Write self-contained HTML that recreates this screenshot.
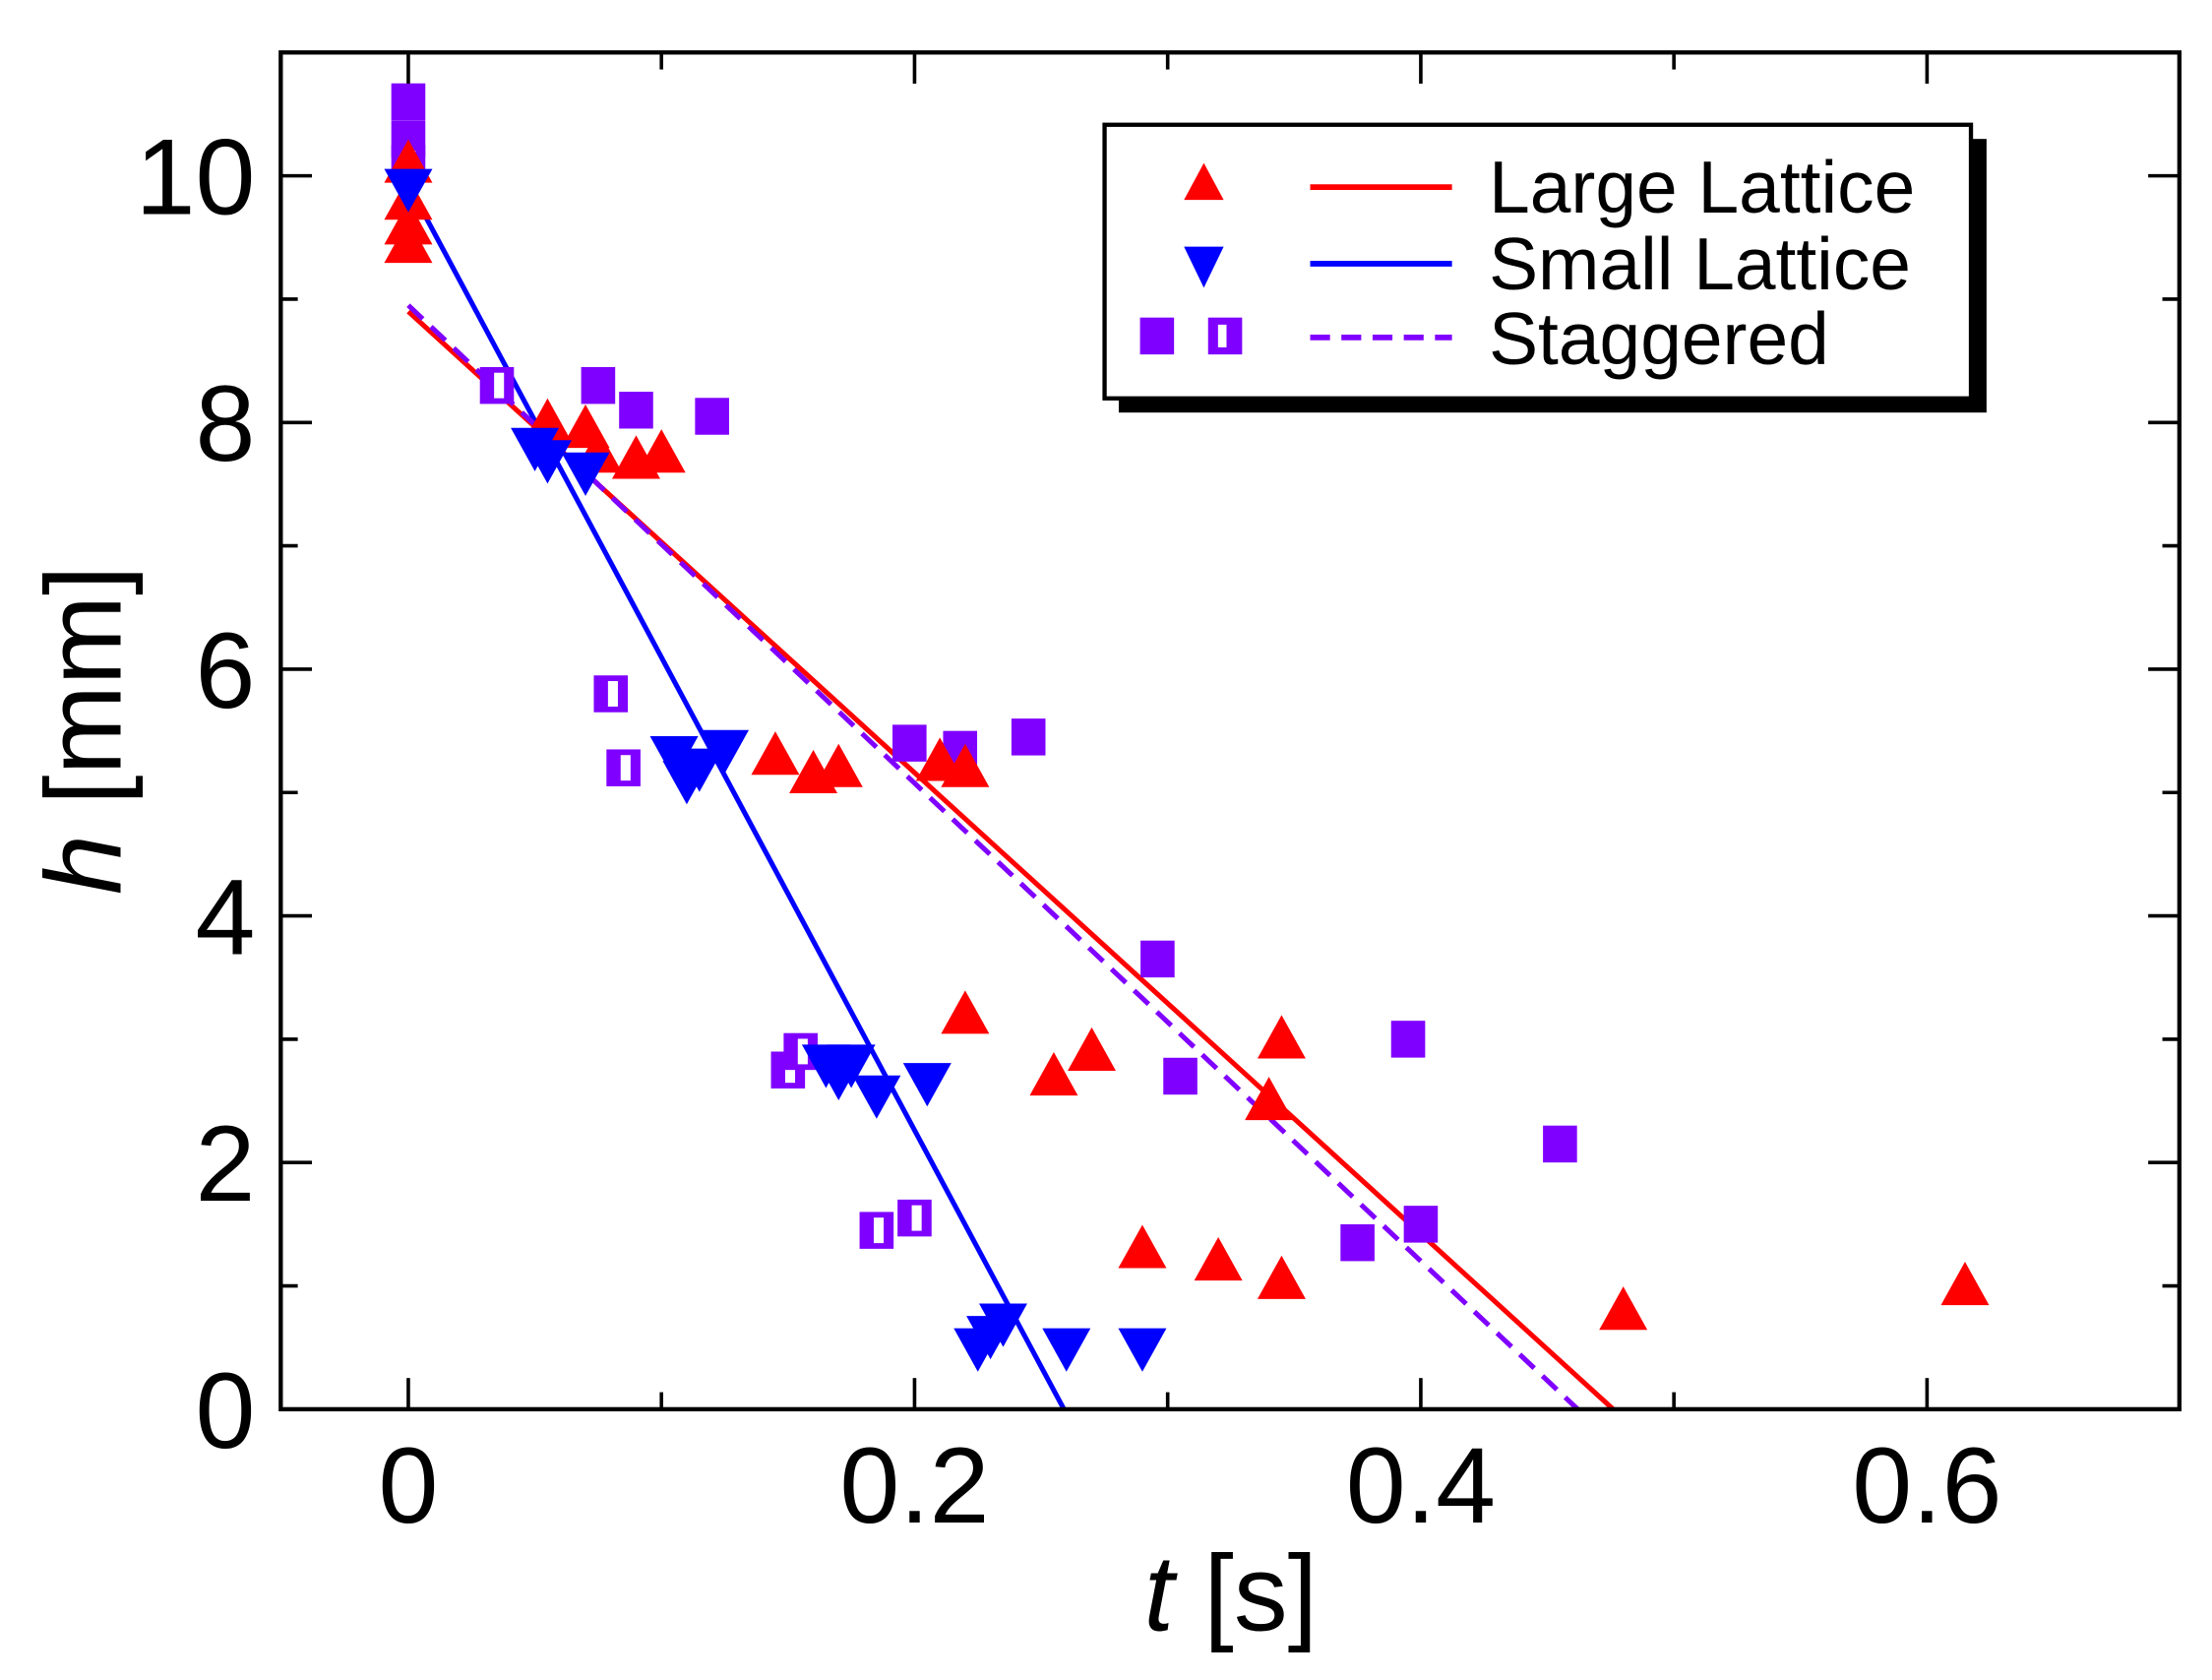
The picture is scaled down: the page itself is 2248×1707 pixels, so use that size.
<!DOCTYPE html>
<html><head><meta charset="utf-8"><style>
html,body{margin:0;padding:0;background:#fff}
svg{display:block}
text{font-family:"Liberation Sans",Arial,sans-serif}
</style></head><body>
<svg id="chart" width="2248" height="1707" viewBox="0 0 1560 1185" preserveAspectRatio="none" xmlns="http://www.w3.org/2000/svg">
<g id="plot"></g>
</svg>
<script>
const xTicks=[0,0.2,0.4,0.6];
const xTickLabels=["0","0.2","0.4","0.6"];
const yTicks=[0,2,4,6,8,10];
const yTickLabels=["0","2","4","6","8","10"];
const largeT=[0,0,0,0,0.055,0.07,0.075,0.09,0.1,0.145,0.16,0.17,0.21,0.22,0.22,0.255,0.27,0.29,0.32,0.34,0.345,0.345,0.48,0.615];
const largeH=[10.1,9.8,9.6,9.45,8.0,7.95,7.75,7.7,7.75,5.3,5.15,5.2,5.25,5.2,3.2,2.7,2.9,1.3,1.2,2.5,3.0,1.05,0.8,1.0];
const smallT=[0,0.05,0.055,0.07,0.105,0.11,0.115,0.125,0.165,0.17,0.175,0.185,0.205,0.225,0.23,0.235,0.26,0.29];
const smallH=[9.9,7.8,7.7,7.6,5.3,5.1,5.2,5.35,2.8,2.7,2.8,2.55,2.65,0.5,0.6,0.7,0.5,0.5];
const stagT=[0,0,0.075,0.09,0.12,0.198,0.218,0.245,0.296,0.305,0.395,0.4,0.375,0.455];
const stagH=[10.6,10.3,8.3,8.1,8.05,5.4,5.35,5.45,3.65,2.7,3.0,1.5,1.35,2.15];
const stagHalfT=[0,0.035,0.08,0.085,0.15,0.155,0.185,0.2];
const stagHalfH=[10.1,8.3,5.8,5.2,2.75,2.9,1.45,1.55];
const fitLarge=[[0,8.9],[0.476,0]];
const fitSmall=[[0,9.93],[0.259,0]];
const fitStag=[[0,8.95],[0.462,0]];

const L=198,R=1537,T=37,B=994,X0=-0.0504,X1=0.6997,Y0=0,Y1=11;
const sx=v=>L+(v-X0)/(X1-X0)*(R-L);
const sy=v=>B-(v-Y0)/(Y1-Y0)*(B-T);
const NS="http://www.w3.org/2000/svg";
const g=document.getElementById('plot');
function mk(tag,attrs,parent){const e=document.createElementNS(NS,tag);for(const k in attrs)e.setAttribute(k,attrs[k]);(parent||g).appendChild(e);return e;}

[[fitLarge,'#ff0000',null,'fit-line-large'],[fitSmall,'#0000ff',null,'fit-line-small'],[fitStag,'#8000ff','14 8','fit-line-staggered']].forEach(f=>{
  const e=mk('line',{x1:sx(f[0][0][0]),y1:sy(f[0][0][1]),x2:sx(f[0][1][0]),y2:sy(f[0][1][1]),stroke:f[1],'stroke-width':3.5});
  if(f[2])e.setAttribute('stroke-dasharray',f[2]);
  
  
});
function tri(x,y,up,col,name){
  const s=17;
  const pts=up?`${x},${y-s} ${x-s},${y+s*0.8} ${x+s},${y+s*0.8}`:`${x},${y+s} ${x-s},${y-s*0.8} ${x+s},${y-s*0.8}`;
  const e=mk('polygon',{points:pts,fill:col});
  
  
}
function sq(x,y,half,name){
  const e=mk('rect',{x:x-12,y:y-13,width:24,height:26,fill:'#7f00ff'});
  
  
  if(half){const w=mk('rect',{x:x-2,y:y-9,width:7,height:18,fill:'#fff'});
    
    }
}
stagT.forEach((t,i)=>sq(sx(t),sy(stagH[i]),false,'staggered-point'));
stagHalfT.forEach((t,i)=>sq(sx(t),sy(stagHalfH[i]),true,'staggered-half-point'));
largeT.forEach((t,i)=>tri(sx(t),sy(largeH[i]),true,'#ff0000','large-lattice-point'));
smallT.forEach((t,i)=>tri(sx(t),sy(smallH[i]),false,'#0000ff','small-lattice-point'));

const fr=mk('rect',{x:L,y:T,width:R-L,height:B-T,fill:'none',stroke:'#000','stroke-width':3});


xTicks.forEach((v,i)=>{
  const x=sx(v);
  mk('line',{x1:x,y1:B,x2:x,y2:B-22,stroke:'#000','stroke-width':2.5});
  mk('line',{x1:x,y1:T,x2:x,y2:T+22,stroke:'#000','stroke-width':2.5});
  const t=mk('text',{x:x,y:B+80,'font-size':76,'text-anchor':'middle'});t.textContent=xTickLabels[i];
  
  
});
[0.1,0.3,0.5].forEach(v=>{const x=sx(v);
  mk('line',{x1:x,y1:B,x2:x,y2:B-12,stroke:'#000','stroke-width':2.5});
  mk('line',{x1:x,y1:T,x2:x,y2:T+12,stroke:'#000','stroke-width':2.5});});
yTicks.forEach((v,i)=>{
  const y=sy(v);
  mk('line',{x1:L,y1:y,x2:L+22,y2:y,stroke:'#000','stroke-width':2.5});
  mk('line',{x1:R,y1:y,x2:R-22,y2:y,stroke:'#000','stroke-width':2.5});
  const t=mk('text',{x:180,y:y+27,'font-size':76,'text-anchor':'end'});t.textContent=yTickLabels[i];
  
  
});
[1,3,5,7,9].forEach(v=>{const y=sy(v);
  mk('line',{x1:L,y1:y,x2:L+12,y2:y,stroke:'#000','stroke-width':2.5});
  mk('line',{x1:R,y1:y,x2:R-12,y2:y,stroke:'#000','stroke-width':2.5});});
const xl=mk('text',{x:868,y:1150,'font-size':76,'text-anchor':'middle'});
xl.innerHTML='<tspan font-style="italic">t</tspan> [s]';


const yl=mk('text',{x:0,y:0,'font-size':76,'text-anchor':'middle',transform:'translate(85,515) rotate(-90)'});
yl.innerHTML='<tspan font-style="italic">h</tspan> [mm]';



const lg=mk('g',{});


mk('rect',{x:789,y:98,width:612,height:193,fill:'#000'},lg);
mk('rect',{x:779,y:88,width:611,height:193,fill:'#fff',stroke:'#000','stroke-width':3},lg);
mk('polygon',{points:'849,115 835,141 863,141',fill:'#ff0000'},lg);
mk('polygon',{points:'849,203 835,174 863,174',fill:'#0000ff'},lg);
mk('rect',{x:804,y:224,width:24,height:26,fill:'#7f00ff'},lg);
mk('rect',{x:852,y:224,width:24,height:26,fill:'#7f00ff'},lg);
mk('rect',{x:859,y:229,width:6,height:16,fill:'#fff'},lg);
mk('line',{x1:924,y1:132,x2:1024,y2:132,stroke:'#ff0000','stroke-width':4},lg);
mk('line',{x1:924,y1:186,x2:1024,y2:186,stroke:'#0000ff','stroke-width':4},lg);
mk('line',{x1:924,y1:238,x2:1024,y2:238,stroke:'#8000ff','stroke-width':4,'stroke-dasharray':'14 8'},lg);
[['Large Lattice',150,'legend-entry-large'],['Small Lattice',204,'legend-entry-small'],['Staggered',257,'legend-entry-staggered']].forEach(a=>{
  const t=mk('text',{x:1050,y:a[1],'font-size':52},lg);t.textContent=a[0];
  
  
});
</script>
</body></html>
